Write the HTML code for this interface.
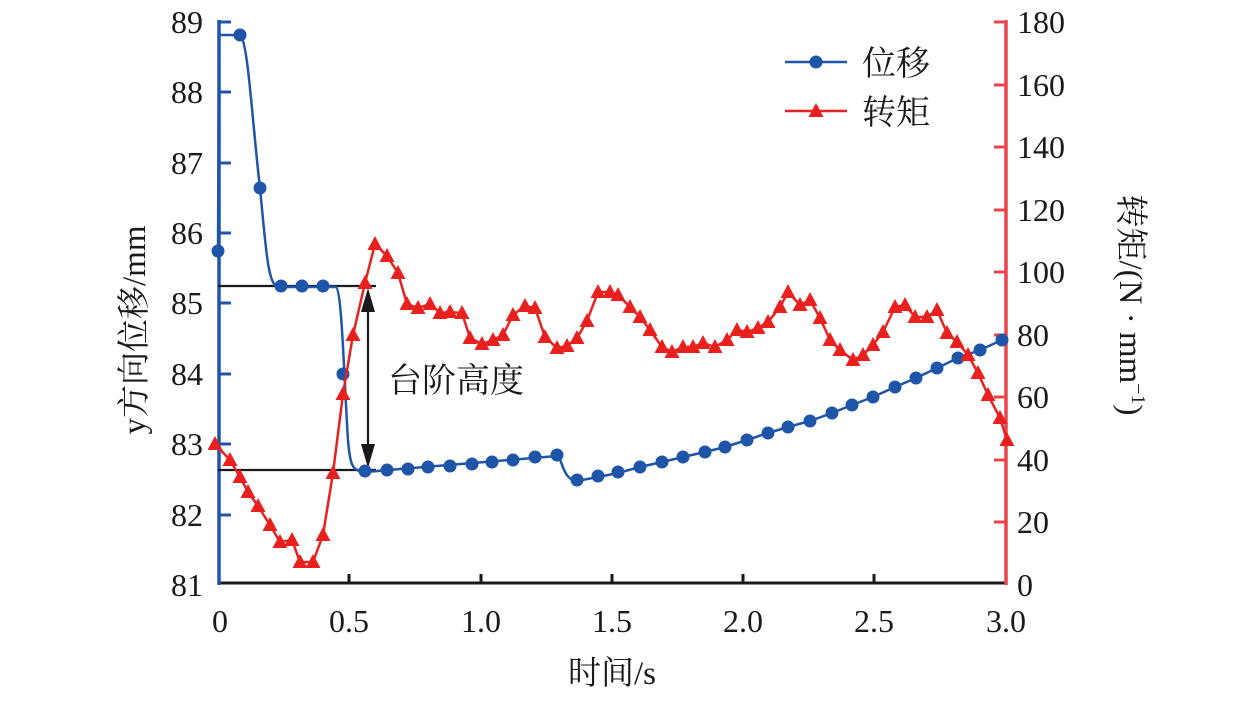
<!DOCTYPE html>
<html><head><meta charset="utf-8"><style>
html,body{margin:0;padding:0;background:#fff}
svg text{font-family:"Liberation Serif","Noto Serif CJK SC",serif}
</style></head><body>
<svg width="1259" height="697" viewBox="0 0 1259 697" xmlns="http://www.w3.org/2000/svg">
<!-- axes -->
<line x1="218" y1="583" x2="1006" y2="583" stroke="#1a1a1a" stroke-width="3"/>
<g stroke="#1a1a1a" stroke-width="3">
<line x1="349" y1="583" x2="349" y2="574"/><line x1="481" y1="583" x2="481" y2="574"/><line x1="612" y1="583" x2="612" y2="574"/><line x1="743" y1="583" x2="743" y2="574"/><line x1="874" y1="583" x2="874" y2="574"/>
</g>
<line x1="219" y1="20" x2="219" y2="585" stroke="#1f55a8" stroke-width="3.5"/>
<g stroke="#1f55a8" stroke-width="3">
<line x1="219" y1="22" x2="231" y2="22"/><line x1="219" y1="92" x2="231" y2="92"/><line x1="219" y1="163" x2="231" y2="163"/><line x1="219" y1="233" x2="231" y2="233"/><line x1="219" y1="303" x2="231" y2="303"/><line x1="219" y1="374" x2="231" y2="374"/><line x1="219" y1="444" x2="231" y2="444"/><line x1="219" y1="515" x2="231" y2="515"/>
</g>
<line x1="1006" y1="20" x2="1006" y2="585" stroke="#e8444a" stroke-width="3.5"/>
<g stroke="#e8444a" stroke-width="3">
<line x1="994" y1="22" x2="1006" y2="22"/><line x1="994" y1="85" x2="1006" y2="85"/><line x1="994" y1="147" x2="1006" y2="147"/><line x1="994" y1="210" x2="1006" y2="210"/><line x1="994" y1="272" x2="1006" y2="272"/><line x1="994" y1="335" x2="1006" y2="335"/><line x1="994" y1="397" x2="1006" y2="397"/><line x1="994" y1="460" x2="1006" y2="460"/><line x1="994" y1="522" x2="1006" y2="522"/>
</g>
<!-- tick labels -->
<g font-size="32" fill="#1a1a1a" text-anchor="end">
<text x="203" y="33">89</text><text x="203" y="103">88</text><text x="203" y="174">87</text><text x="203" y="244">86</text><text x="203" y="314">85</text><text x="203" y="385">84</text><text x="203" y="455">83</text><text x="203" y="526">82</text><text x="203" y="596">81</text>
</g>
<g font-size="32" fill="#1a1a1a" text-anchor="start">
<text x="1017" y="33">180</text><text x="1017" y="96">160</text><text x="1017" y="158">140</text><text x="1017" y="221">120</text><text x="1017" y="283">100</text><text x="1017" y="346">80</text><text x="1017" y="408">60</text><text x="1017" y="471">40</text><text x="1017" y="533">20</text><text x="1017" y="596">0</text>
</g>
<g font-size="32" fill="#1a1a1a" text-anchor="middle">
<text x="220" y="632">0</text><text x="349" y="632">0.5</text><text x="481" y="632">1.0</text><text x="612" y="632">1.5</text><text x="743" y="632">2.0</text><text x="874" y="632">2.5</text><text x="1006" y="632">3.0</text>
<text x="612" y="684" font-size="33">时间/s</text>
</g>
<text transform="translate(145,330) rotate(-90)" font-size="33" text-anchor="middle" fill="#1a1a1a">y方向位移/mm</text>
<text transform="translate(1120,305) rotate(90)" font-size="33" text-anchor="middle" fill="#1a1a1a">转矩/(N · mm<tspan dy="-12" font-size="20">−1</tspan><tspan dy="12">)</tspan></text>
<!-- annotation -->
<g stroke="#1a1a1a" stroke-width="2.2">
<line x1="218" y1="286" x2="376" y2="286"/><line x1="218" y1="470" x2="376" y2="470"/>
<line x1="368" y1="305" x2="368" y2="450"/>
</g>
<polygon points="368,288 361,312 375,312" fill="#1a1a1a"/>
<polygon points="368,468 361,444 375,444" fill="#1a1a1a"/>
<text x="388" y="392" font-size="34" fill="#1a1a1a">台阶高度</text>
<!-- blue -->
<path d="M218,252 L219,35 L240,35 C248,40 252,120 260,188 C266,250 268,285 278,287 L336,287 C342,290 344,380 348,440 C350,465 352,471 365,472 L557,456 C562,456 562,480 577,481 L598,477 L618,473 L640,467 L662,462 L683,457 L705,452 L725,447 L747,440 L768,433 L788,427 L810,421 L832,413 L852,405 L873,397 L895,387 L916,378 L937,368 L958,358 L980,350 L1002,340" fill="none" stroke="#1f55a8" stroke-width="2.5"/>
<g fill="#1f55a8">
<circle cx="218" cy="251" r="6.5"/><circle cx="240" cy="35" r="6.5"/><circle cx="260" cy="188" r="6.5"/><circle cx="281" cy="286" r="6.5"/><circle cx="302" cy="286" r="6.5"/><circle cx="323" cy="286" r="6.5"/><circle cx="343" cy="374" r="6.5"/>
<circle cx="365" cy="471" r="6.5"/><circle cx="387" cy="470" r="6.5"/><circle cx="408" cy="469" r="6.5"/><circle cx="428" cy="467" r="6.5"/><circle cx="450" cy="466" r="6.5"/><circle cx="472" cy="464" r="6.5"/><circle cx="492" cy="462" r="6.5"/><circle cx="513" cy="460" r="6.5"/><circle cx="535" cy="457" r="6.5"/><circle cx="557" cy="455" r="6.5"/>
<circle cx="577" cy="480" r="6.5"/><circle cx="598" cy="476" r="6.5"/><circle cx="618" cy="472" r="6.5"/><circle cx="640" cy="467" r="6.5"/><circle cx="662" cy="462" r="6.5"/><circle cx="683" cy="457" r="6.5"/><circle cx="705" cy="452" r="6.5"/><circle cx="725" cy="447" r="6.5"/><circle cx="747" cy="440" r="6.5"/><circle cx="768" cy="433" r="6.5"/><circle cx="788" cy="427" r="6.5"/><circle cx="810" cy="421" r="6.5"/><circle cx="832" cy="413" r="6.5"/><circle cx="852" cy="405" r="6.5"/><circle cx="873" cy="397" r="6.5"/><circle cx="895" cy="387" r="6.5"/><circle cx="916" cy="378" r="6.5"/><circle cx="937" cy="368" r="6.5"/><circle cx="958" cy="358" r="6.5"/><circle cx="980" cy="350" r="6.5"/><circle cx="1002" cy="340" r="6.5"/>
</g>
<!-- red -->
<defs><marker id="t" viewBox="-8 -8 16 16" markerWidth="16" markerHeight="16" markerUnits="userSpaceOnUse"><polygon points="0,-8 7.5,6 -7.5,6" fill="#e8201e"/></marker></defs>
<polyline points="215,444 230,460 240,477 248,492 258,506 270,525 280,542 292,540 300,562 313,562 323,535 333,473 343,394 353,335 365,283 375,244 387,256 398,273 407,304 418,308 430,304 440,313 450,312 462,313 470,338 482,344 493,340 503,335 513,315 525,306 535,308 545,337 557,348 567,346 577,338 587,321 598,292 610,292 618,295 630,307 640,317 650,330 662,347 672,352 683,347 693,347 703,343 715,347 727,340 737,330 747,332 758,328 768,322 780,307 788,292 800,305 810,300 820,318 830,340 840,350 853,360 863,355 873,345 883,332 895,307 905,305 915,317 927,317 937,310 947,333 957,342 968,355 978,373 988,395 1000,418 1007,440" fill="none" stroke="#e8201e" stroke-width="2.5" marker-start="url(#t)" marker-mid="url(#t)" marker-end="url(#t)"/>
<!-- legend -->
<line x1="785" y1="62" x2="847" y2="62" stroke="#1f55a8" stroke-width="2.5"/>
<circle cx="816" cy="62" r="6.5" fill="#1f55a8"/>
<text x="862" y="75" font-size="34" fill="#1a1a1a">位移</text>
<line x1="785" y1="111" x2="847" y2="111" stroke="#e8201e" stroke-width="2.5"/>
<polygon points="816,103 823.5,117 808.5,117" fill="#e8201e"/>
<text x="862" y="124" font-size="34" fill="#1a1a1a">转矩</text>
</svg>
</body></html>
